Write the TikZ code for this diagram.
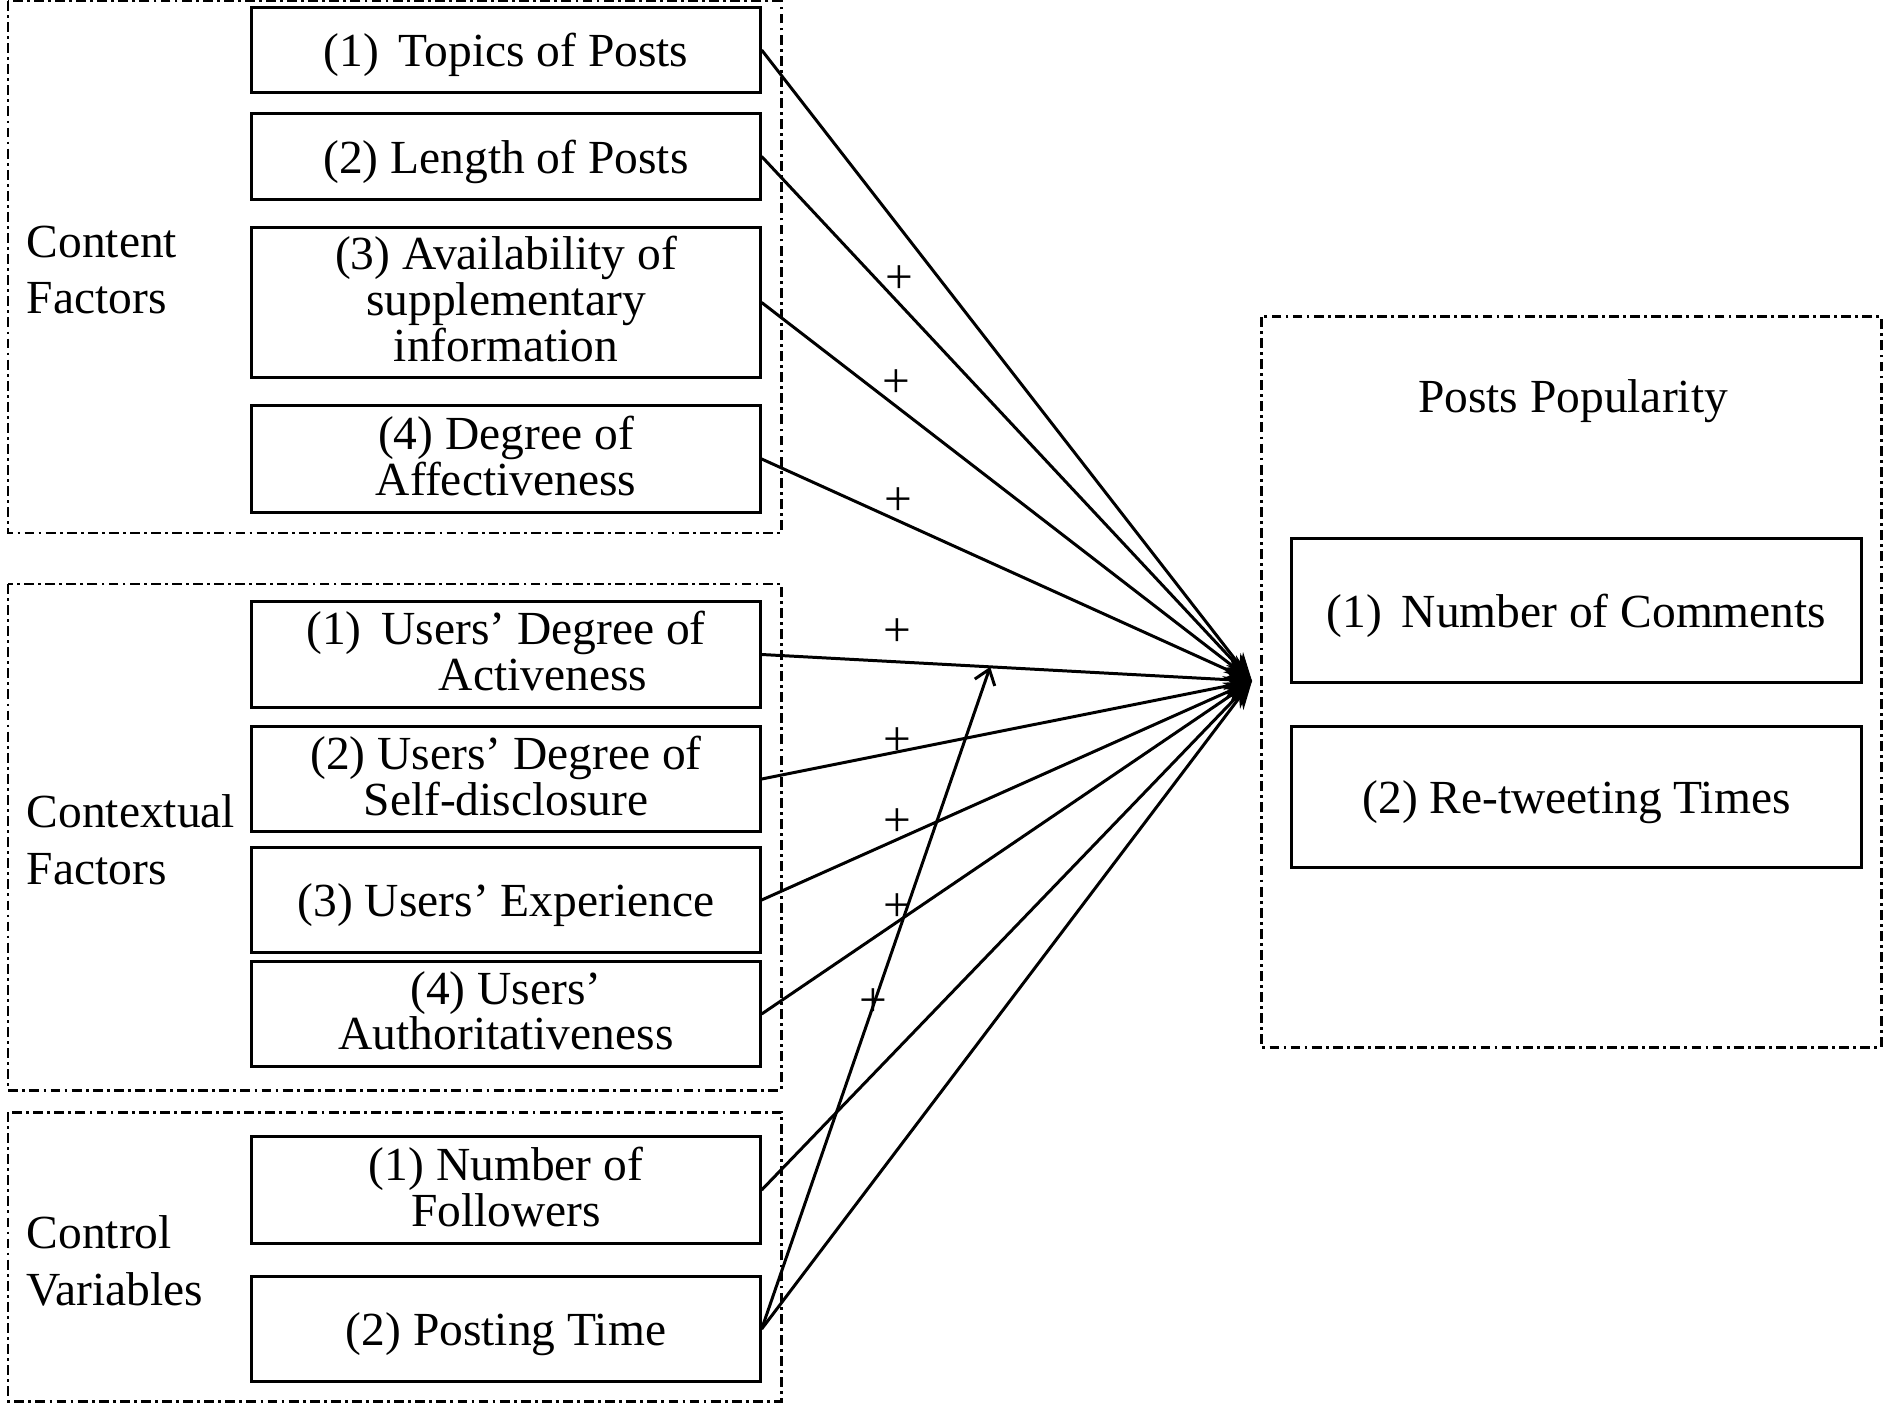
\documentclass[tikz,border=0pt]{standalone}
\usepackage{fontspec}
\setmainfont{Liberation Serif}
\usetikzlibrary{arrows.meta,calc}

\begin{document}
\begin{tikzpicture}[x=0.01cm, y=-0.01cm,
    font=\fontsize{13.5}{13}\selectfont,
    factor/.style={draw, line width=0.85pt, minimum width=5.08cm, inner sep=0pt, align=center, text depth=2pt},
    oneline/.style={text depth=0pt},
    group/.style={line width=0.85pt, dash pattern=on 2.8pt off 1.2pt on 0.8pt off 1.2pt},
    grouplabel/.style={anchor=west, align=left, inner sep=0pt, font=\fontsize{13.5}{16.1}\selectfont},
    link/.style={line width=0.85pt, -{Stealth[length=8pt,width=6pt]}},
    plus/.style={inner sep=0pt, font=\fontsize{14}{14}\selectfont}]
    \useasboundingbox (0,0) rectangle (1883,1404);

    % dash-dot frames
    \draw[group] (8,1) rectangle (781,533);
    \draw[group] (8,584) rectangle (781,1090);
    \draw[group] (8,1112) rectangle (781,1401);
    \draw[group] (1261,317) rectangle (1881,1047);

    \node[grouplabel] (content) at (26,270) {Content\\Factors};
    \node[grouplabel] (context) at (26,840) {Contextual\\Factors};
    \node[grouplabel] (control) at (26,1261) {Control\\Variables};

    \node[factor, oneline, minimum height=0.84cm] (c1) at (506,50) {(1) \,Topics of Posts};
    \node[factor, oneline, minimum height=0.85cm] (c2) at (506,156.5) {(2) Length of Posts};
    \node[factor, minimum height=1.49cm] (c3) at (506,302.5) {(3) Availability of\\supplementary\\information};
    \node[factor, minimum height=1.06cm] (c4) at (506,459) {(4) Degree of\\Affectiveness};

    \node[factor, minimum height=1.05cm] (x1) at (506,654.5) {(1) \,Users' Degree of\\\hspace*{21pt}Activeness};
    \node[factor, minimum height=1.04cm] (x2) at (506,779) {(2) Users' Degree of\\Self-disclosure};
    \node[factor, oneline, minimum height=1.04cm] (x3) at (506,900) {(3) Users' Experience};
    \node[factor, minimum height=1.04cm] (x4) at (506,1014) {(4) Users'\\Authoritativeness};

    \node[factor, minimum height=1.06cm] (k1) at (506,1190) {(1) Number of\\Followers};
    \node[factor, oneline, minimum height=1.04cm] (k2) at (506,1329) {(2) Posting Time};

    \node[text depth=0pt] (title) at (1573,396) {Posts Popularity};
    \node[factor, oneline, minimum width=5.69cm, minimum height=1.43cm] (r1) at (1576.5,610.5) {(1) \,Number of Comments};
    \node[factor, oneline, minimum width=5.69cm, minimum height=1.40cm] (r2) at (1576.5,797) {(2) Re-tweeting Times};

    \coordinate (conv) at (1252,681);

    \draw[link] (c1.east) -- (conv);
    \draw[link] (c2.east) -- (conv);
    \draw[link] (c3.east) -- (conv);
    \draw[link] (c4.east) -- (conv);
    \draw[link] (x1.east) -- (conv);
    \draw[link] (x2.east) -- (conv);
    \draw[link] (x3.east) -- (conv);
    \draw[link] (x4.east) -- (conv);
    \draw[link] (k1.east) -- (conv);
    \draw[link] (k2.east) -- (conv);

    % moderating effect of posting time
    \coordinate (mod) at ($(x1.east)!0.466!(conv)$);
    \draw[line width=0.85pt, -{Straight Barb[length=4pt,width=6pt]}] (k2.east) -- (mod);

    \node[plus] (p2) at (899,280) {+};
    \node[plus] (p3) at (896,384) {+};
    \node[plus] (p4) at (898,502) {+};
    \node[plus] (p5) at (897,633) {+};
    \node[plus] (p6) at (897,742) {+};
    \node[plus] (p7) at (897,823) {+};
    \node[plus] (p8) at (897,908) {+};
    \node[plus] (p9) at (873,1003) {+};
\end{tikzpicture}
\end{document}
